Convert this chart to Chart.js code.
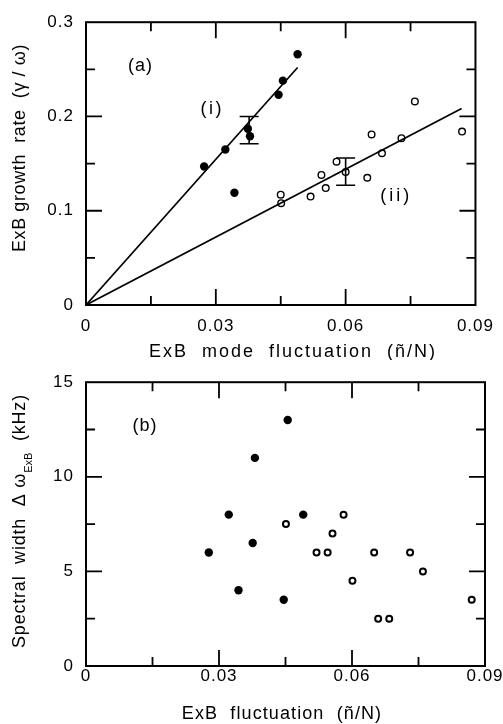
<!DOCTYPE html>
<html>
<head>
<meta charset="utf-8">
<script src="https://cdn.jsdelivr.net/npm/chart.js@4.4.1/dist/chart.umd.min.js"></script>
<style>
    html, body { margin: 0; padding: 0; background: #fff; }
    #wrap { position: relative; width: 503px; height: 724px; }
    canvas { position: absolute; left: 0; }
</style>
</head>
<body>
<div id="wrap">
    <canvas id="chartA" width="503" height="360" style="top:0"></canvas>
    <canvas id="chartB" width="503" height="364" style="top:360px"></canvas>
</div>
<script>
// shared x axis (n~/N)
var xTickValues = [0, 0.03, 0.06, 0.09];
var xTickLabels = ['0', '0.03', '0.06', '0.09'];
var xMajorTicks = [0.03, 0.06];
var xMinorTicks = [0.015, 0.045, 0.075];

// panel (a) y axis
var aTickValues = [0, 0.1, 0.2, 0.3];
var aTickLabels = ['0', '0.1', '0.2', '0.3'];
var aMajorTicks = [0.1, 0.2];
var aMinorTicks = [0.05, 0.15, 0.25];

// panel (b) y axis
var bTickValues = [0, 5, 10, 15];
var bTickLabels = ['0', '5', '10', '15'];
var bMajorTicks = [5, 10];
var bMinorTicks = [2.5, 7.5, 12.5];

// panel (a) data : (i) filled, (ii) open
var filledAx = [0.0273, 0.0322, 0.0343, 0.0374, 0.0379, 0.0445, 0.0455, 0.0489];
var filledAy = [0.147, 0.165, 0.119, 0.187, 0.179, 0.223, 0.238, 0.266];
var openAx = [0.0450, 0.0451, 0.0519, 0.0544, 0.0554, 0.0579, 0.0600, 0.0650, 0.0660, 0.0684, 0.0729, 0.0760, 0.0869];
var openAy = [0.117, 0.108, 0.115, 0.138, 0.124, 0.152, 0.141, 0.135, 0.181, 0.161, 0.177, 0.216, 0.184];

// fitted lines through origin
var fitIx = [0, 0.0489];
var fitIy = [0, 0.252];
var fitIIx = [0, 0.0868];
var fitIIy = [0, 0.2084];

// error bars in (a)
var errX = [0.0377, 0.0600];
var errLo = [0.171, 0.127];
var errHi = [0.200, 0.156];

// panel (b) data
var filledBx = [0.0277, 0.0322, 0.0344, 0.0376, 0.0381, 0.0446, 0.0455, 0.0490];
var filledBy = [6.0, 8.0, 4.0, 6.5, 11.0, 3.5, 13.0, 8.0];
var openBx = [0.0451, 0.0520, 0.0545, 0.0556, 0.0581, 0.0601, 0.0650, 0.0659, 0.0684, 0.0731, 0.0760, 0.0870];
var openBy = [7.5, 6.0, 6.0, 7.0, 8.0, 4.5, 6.0, 2.5, 2.5, 6.0, 5.0, 3.5];

var FONT = "'Liberation Sans', Arial, Helvetica, sans-serif";

function toPoints(xs, ys) {
    return xs.map(function (x, i) { return { x: x, y: ys[i] }; });
}

// frame with inward ticks on all four sides, error bars, texts
var framePlugin = {
    id: 'frame',
    beforeDraw: function (chart) {
        chart.ctx.letterSpacing = '1px';
    },
    afterDraw: function (chart) {
        var o = chart.options.plugins.frame;
        var ctx = chart.ctx, a = chart.chartArea;
        var xs = chart.scales.x, ys = chart.scales.y;
        ctx.save();
        ctx.letterSpacing = '0px';
        ctx.strokeStyle = '#000';
        ctx.fillStyle = '#000';
        ctx.lineWidth = 2;
        ctx.strokeRect(a.left, a.top, a.right - a.left, a.bottom - a.top);

        ctx.lineWidth = 1.8;
        ctx.beginPath();
        function xTick(v, len) {
            var p = xs.getPixelForValue(v);
            ctx.moveTo(p, a.bottom); ctx.lineTo(p, a.bottom - len);
            ctx.moveTo(p, a.top); ctx.lineTo(p, a.top + len);
        }
        function yTick(v, len) {
            var p = ys.getPixelForValue(v);
            ctx.moveTo(a.left, p); ctx.lineTo(a.left + len, p);
            ctx.moveTo(a.right, p); ctx.lineTo(a.right - len, p);
        }
        xMajorTicks.forEach(function (v) { xTick(v, 16); });
        xMinorTicks.forEach(function (v) { xTick(v, 9); });
        o.yMajor.forEach(function (v) { yTick(v, 16); });
        o.yMinor.forEach(function (v) { yTick(v, 9); });
        ctx.stroke();

        // error bars
        if (o.errX) {
            ctx.lineWidth = 1.6;
            ctx.beginPath();
            o.errX.forEach(function (x, i) {
                var px = xs.getPixelForValue(x);
                var p1 = ys.getPixelForValue(o.errLo[i]);
                var p2 = ys.getPixelForValue(o.errHi[i]);
                ctx.moveTo(px, p1); ctx.lineTo(px, p2);
                ctx.moveTo(px - 9.5, p1); ctx.lineTo(px + 9.5, p1);
                ctx.moveTo(px - 9.5, p2); ctx.lineTo(px + 9.5, p2);
            });
            ctx.stroke();
        }

        // panel labels
        ctx.textAlign = 'center';
        ctx.textBaseline = 'middle';
        ctx.font = '18px ' + FONT;
        o.labels.forEach(function (l) {
            ctx.letterSpacing = l.ls + 'px';
            ctx.fillText(l.text, xs.getPixelForValue(l.x), ys.getPixelForValue(l.y));
        });

        // x title
        ctx.textBaseline = 'alphabetic';
        ctx.letterSpacing = o.xTitle.ls + 'px';
        ctx.fillText(o.xTitle.text, o.xTitle.cx, o.xTitle.base);

        // y title (rotated, with optional subscript)
        ctx.save();
        ctx.translate(o.yTitle.base, o.yTitle.cy);
        ctx.rotate(-Math.PI / 2);
        ctx.textAlign = 'left';
        var parts = o.yTitle.parts;
        var total = 0;
        parts.forEach(function (p) {
            ctx.font = p.size + 'px ' + FONT;
            ctx.letterSpacing = p.ls + 'px';
            p.w = ctx.measureText(p.text).width;
            total += p.w;
        });
        var cur = -total / 2;
        parts.forEach(function (p) {
            ctx.font = p.size + 'px ' + FONT;
            ctx.letterSpacing = p.ls + 'px';
            ctx.fillText(p.text, cur, p.dy || 0);
            cur += p.w;
        });
        ctx.restore();
        ctx.restore();
    }
};

function axisX(height, pad) {
    return {
        type: 'linear', min: 0, max: 0.09,
        afterBuildTicks: function (s) { s.ticks = xTickValues.map(function (v) { return { value: v }; }); },
        afterFit: function (s) { s.height = height; },
        grid: { display: false, drawTicks: false },
        border: { display: false },
        ticks: {
            padding: pad, color: '#000', maxRotation: 0, autoSkip: false,
            font: { family: FONT, size: 17 },
            callback: function (v, i) { return xTickLabels[i]; }
        }
    };
}

function axisY(min, max, vals, labels) {
    return {
        type: 'linear', min: min, max: max,
        afterBuildTicks: function (s) { s.ticks = vals.map(function (v) { return { value: v }; }); },
        afterFit: function (s) { s.width = 86; },
        grid: { display: false, drawTicks: false },
        border: { display: false },
        ticks: {
            padding: 12, color: '#000', autoSkip: false,
            font: { family: FONT, size: 17 },
            callback: function (v, i) { return labels[i]; }
        }
    };
}

function filledSet(xs, ys) {
    return { data: toPoints(xs, ys), pointRadius: 4.2, pointBorderWidth: 0, pointBackgroundColor: '#000', pointBorderColor: '#000', showLine: false };
}
function openSet(xs, ys, r, bw) {
    return { data: toPoints(xs, ys), pointRadius: r, pointBorderWidth: bw, pointBackgroundColor: '#fff', pointBorderColor: '#000', showLine: false };
}
function lineSet(xs, ys) {
    return { data: toPoints(xs, ys), showLine: true, borderColor: '#000', borderWidth: 1.7, pointRadius: 0, fill: false };
}

var chartA = new Chart(document.getElementById('chartA'), {
    type: 'scatter',
    data: {
        datasets: [
            lineSet(fitIx, fitIy),
            lineSet(fitIIx, fitIIy),
            filledSet(filledAx, filledAy),
            openSet(openAx, openAy, 3.3, 1.4)
        ]
    },
    options: {
        responsive: false,
        animation: false,
        layout: { padding: { left: 0, top: 16, right: 18, bottom: 0 } },
        scales: {
            x: axisX(55, 11),
            y: axisY(0, 0.3, aTickValues, aTickLabels)
        },
        plugins: {
            legend: { display: false },
            tooltip: { enabled: false },
            frame: {
                yMajor: aMajorTicks, yMinor: aMinorTicks,
                errX: errX, errLo: errLo, errHi: errHi,
                labels: [
                    { text: '(a)', x: 0.0126, y: 0.253, ls: 1 },
                    { text: '(i)', x: 0.0292, y: 0.2077, ls: 2.5 },
                    { text: '(ii)', x: 0.0717, y: 0.1153, ls: 3 }
                ],
                xTitle: { text: 'ExB  mode  fluctuation  (ñ/N)', cx: 293, base: 357, ls: 2 },
                yTitle: {
                    base: 25, cy: 148,
                    parts: [{ text: 'ExB growth  rate  (γ / ω)', size: 18, ls: 0.6 }]
                }
            }
        }
    },
    plugins: [framePlugin]
});

var chartB = new Chart(document.getElementById('chartB'), {
    type: 'scatter',
    data: {
        datasets: [
            filledSet(filledBx, filledBy),
            openSet(openBx, openBy, 3, 2)
        ]
    },
    options: {
        responsive: false,
        animation: false,
        layout: { padding: { left: 0, top: 19, right: 18, bottom: 0 } },
        scales: {
            x: axisX(58, 0),
            y: axisY(0, 15, bTickValues, bTickLabels)
        },
        plugins: {
            legend: { display: false },
            tooltip: { enabled: false },
            frame: {
                yMajor: bMajorTicks, yMinor: bMinorTicks,
                labels: [
                    { text: '(b)', x: 0.0133, y: 12.67, ls: 1 }
                ],
                xTitle: { text: 'ExB  fluctuation  (ñ/N)', cx: 282, base: 358.5, ls: 1.1 },
                yTitle: {
                    base: 25, cy: 161,
                    parts: [
                        { text: 'Spectral  width  Δ ω', size: 18, ls: 0.8 },
                        { text: 'ExB', size: 11, ls: 0, dy: 7 },
                        { text: '  (kHz)', size: 18, ls: 0.8 }
                    ]
                }
            }
        }
    },
    plugins: [framePlugin]
});
</script>
</body>
</html>
